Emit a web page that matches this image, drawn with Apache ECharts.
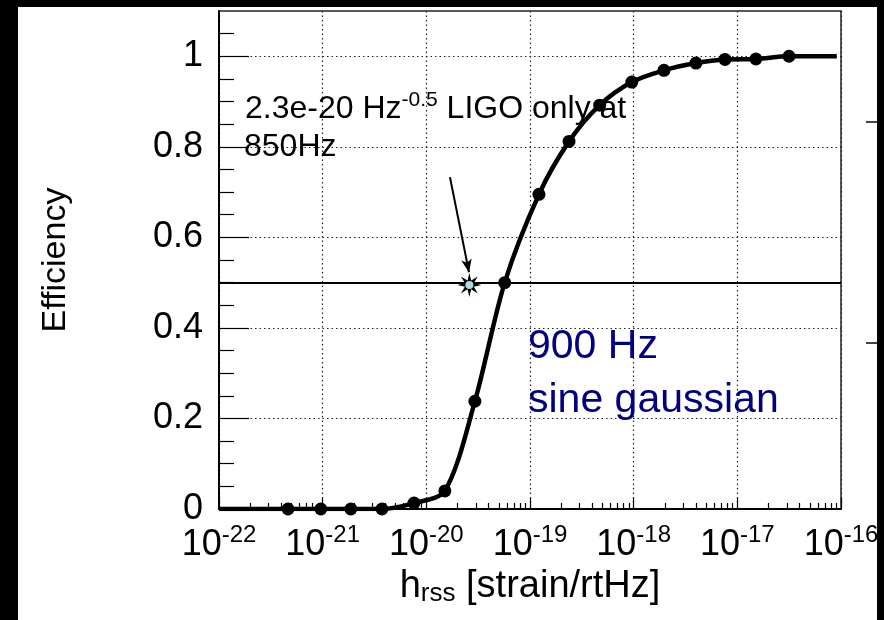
<!DOCTYPE html>
<html><head><meta charset="utf-8">
<script src="https://cdn.jsdelivr.net/npm/echarts@6/dist/echarts.min.js"></script>
<style>html,body{margin:0;padding:0;background:#fff}#c{width:884px;height:620px}</style>
</head><body><div id="c"></div>
<script>
// ---- data ----
const xTickValues = [1e-22, 1e-21, 1e-20, 1e-19, 1e-18, 1e-17, 1e-16];
const yTickValues = [0, 0.2, 0.4, 0.6, 0.8, 1.0];
const yMinorValues = [0.05,0.1,0.15,0.25,0.3,0.35,0.45,0.5,0.55,0.65,0.7,0.75,0.85,0.9,0.95,1.05];
const hrss = [4.63e-22, 9.6e-22, 1.87e-21, 3.73e-21, 7.6e-21, 1.51e-20, 2.94e-20, 5.7e-20, 1.22e-19, 2.38e-19, 4.7e-19, 9.6e-19, 1.96e-18, 3.99e-18, 7.6e-18, 1.51e-17, 3.15e-17];
const efficiency = [0, 0, 0, 0, 0.013, 0.04, 0.238, 0.5, 0.695, 0.812, 0.892, 0.943, 0.969, 0.985, 0.993, 0.994, 1.0];
const fitHrss = [1e-22, 4.63e-22, 9.6e-22, 1.87e-21, 3.73e-21, 7.6e-21, 1.51e-20, 2.94e-20, 5.7e-20, 1.22e-19, 2.38e-19, 4.7e-19, 9.6e-19, 1.96e-18, 3.99e-18, 7.6e-18, 1.51e-17, 3.15e-17, 9.1e-17];
const fitEff = [0, 0, 0, 0, 0, 0.013, 0.04, 0.238, 0.5, 0.695, 0.812, 0.892, 0.943, 0.969, 0.985, 0.993, 0.994, 1.0, 1.0];
const ligoHrss = [2.6e-20];
const ligoEff = [0.495];
const arrowFrom = [1.69e-20, 0.733];
const arrowTo = [2.58e-20, 0.523];
const refLevel = 0.496;

// minor log ticks (2..9 in each decade)
const xMinorValues = [];
for (let d = -22; d < -16; d++) for (let m = 2; m <= 9; m++) xMinorValues.push(m * Math.pow(10, d));

const FONT = 'Liberation Sans, Arial, Helvetica, sans-serif';

// 8-point star symbol shape
let star = 'path://';
for (let i = 0; i < 16; i++) {
  const r = i % 2 === 0 ? 10 : 4.0;
  const a = Math.PI * i / 8 - Math.PI / 2;
  star += (i === 0 ? 'M' : 'L') + (r * Math.cos(a)).toFixed(2) + ' ' + (r * Math.sin(a)).toFixed(2);
}
star += 'Z';

const chart = echarts.init(document.getElementById('c'), null, {renderer: 'canvas'});
const dotted = {type: [1.5, 3], color: '#222', width: 1.2};

chart.setOption({
  backgroundColor: '#ffffff',
  animation: false,
  grid: {left: 219, right: 43, top: 11, bottom: 111, show: true, borderColor: '#222', borderWidth: 1.5, backgroundColor: 'transparent'},
  xAxis: [{
    type: 'log', logBase: 10, min: 1e-22, max: 1e-16,
    axisLine: {show: true, lineStyle: {color: '#000', width: 2}},
    axisTick: {show: true, inside: true, length: 11, customValues: xTickValues, lineStyle: {color: '#000', width: 1.2}},
    axisLabel: {
      show: true, customValues: xTickValues, margin: 14, color: '#000',
      formatter: v => '{b|10}{s|' + Math.round(Math.log10(v)) + '}',
      rich: {
        b: {fontFamily: FONT, fontSize: 36, color: '#000', lineHeight: 44},
        s: {fontFamily: FONT, fontSize: 24, color: '#000', lineHeight: 16, verticalAlign: 'top'}
      }
    },
    splitLine: {show: true, lineStyle: dotted},
    name: '{a|h}{b|rss}{a| [strain/rtHz]}',
    nameLocation: 'middle', nameGap: 50,
    nameTextStyle: {
      rich: {
        a: {fontFamily: FONT, fontSize: 38, color: '#000', lineHeight: 40},
        b: {fontFamily: FONT, fontSize: 26, color: '#000', lineHeight: 20, verticalAlign: 'bottom'}
      }
    }
  }, {
    type: 'log', logBase: 10, min: 1e-22, max: 1e-16, gridIndex: 0, position: 'bottom',
    axisLine: {show: false},
    axisTick: {show: true, inside: true, length: 6, customValues: xMinorValues, lineStyle: {color: '#000', width: 1.2}},
    axisLabel: {show: false},
    splitLine: {show: false}
  }],
  yAxis: [{
    type: 'value', min: 0, max: 1.1,
    axisLine: {show: true, lineStyle: {color: '#000', width: 2}},
    axisTick: {show: true, inside: true, length: 30, customValues: yTickValues, lineStyle: {color: '#000', width: 1.2}},
    axisLabel: {show: true, customValues: yTickValues, margin: 16, color: '#000', fontFamily: FONT, fontSize: 36,
      formatter: v => String(+v.toFixed(1))},
    splitLine: {show: true, lineStyle: dotted},
    name: 'Efficiency', nameLocation: 'middle', nameRotate: 90, nameGap: 146,
    nameTextStyle: {fontFamily: FONT, fontSize: 34, color: '#000'}
  }, {
    type: 'value', min: 0, max: 1.1, gridIndex: 0, position: 'left',
    axisLine: {show: false},
    axisTick: {show: true, inside: true, length: 15, customValues: yMinorValues, lineStyle: {color: '#000', width: 1.2}},
    axisLabel: {show: false},
    splitLine: {show: false}
  }],
  series: [{
    type: 'line', name: 'fit', xAxisIndex: 0, yAxisIndex: 0,
    data: fitHrss.map((x, i) => [x, fitEff[i]]),
    showSymbol: false, smooth: 0.3,
    lineStyle: {color: '#000', width: 4.5}, z: 3,
    markLine: {
      silent: true, symbol: ['none', 'none'], label: {show: false},
      lineStyle: {color: '#000', width: 2, type: 'solid'},
      data: [{yAxis: refLevel}]
    }
  }, {
    type: 'scatter', name: 'efficiency', xAxisIndex: 0, yAxisIndex: 0,
    data: hrss.map((x, i) => [x, efficiency[i]]),
    symbol: 'circle', symbolSize: 13, itemStyle: {color: '#000', opacity: 1}, z: 4
  }, {
    type: 'scatter', name: 'ligo', xAxisIndex: 0, yAxisIndex: 0,
    data: ligoHrss.map((x, i) => [x, ligoEff[i]]),
    symbol: star, symbolSize: 24, itemStyle: {color: '#000', opacity: 1}, z: 5,
    markLine: {
      silent: true, symbol: ['none', 'arrow'], symbolSize: [8, 13], label: {show: false},
      lineStyle: {color: '#000', width: 2, type: 'solid'},
      data: [[{coord: arrowFrom}, {coord: arrowTo}]]
    }
  }, {
    type: 'scatter', name: 'ligoCenter', xAxisIndex: 0, yAxisIndex: 0,
    data: ligoHrss.map((x, i) => [x, ligoEff[i]]),
    symbol: 'circle', symbolSize: 8, itemStyle: {color: '#a9dfe3', opacity: 1}, z: 6
  }],
  graphic: [
    {type: 'rect', shape: {x: 0, y: 0, width: 884, height: 7}, style: {fill: '#000'}, z: 100},
    {type: 'rect', shape: {x: 0, y: 0, width: 18, height: 620}, style: {fill: '#000'}, z: 100},
    {type: 'rect', shape: {x: 877, y: 0, width: 7, height: 620}, style: {fill: '#000'}, z: 100},
    {type: 'line', shape: {x1: 866, y1: 122, x2: 877, y2: 122}, style: {stroke: '#444', lineWidth: 2}, z: 100},
    {type: 'line', shape: {x1: 866, y1: 343, x2: 877, y2: 343}, style: {stroke: '#444', lineWidth: 2}, z: 100},
    {type: 'text', x: 245, y: 109, z: 50, style: {
      text: '{a|2.3e-20 Hz}{s|-0.5}{a| LIGO only at}', textVerticalAlign: 'middle',
      rich: {
        a: {fontFamily: FONT, fontSize: 32, fill: '#000', lineHeight: 38},
        s: {fontFamily: FONT, fontSize: 21, fill: '#000', lineHeight: 16, verticalAlign: 'top'}
      }}},
    {type: 'text', x: 244, y: 147, z: 50, style: {text: '850Hz', font: '32px ' + FONT, fill: '#000', textVerticalAlign: 'middle'}},
    {type: 'text', x: 528, y: 347, z: 50, style: {text: '900 Hz', font: '41px ' + FONT, fill: '#000080', textVerticalAlign: 'middle'}},
    {type: 'text', x: 528, y: 401, z: 50, style: {text: 'sine gaussian', font: '41px ' + FONT, fill: '#000080', textVerticalAlign: 'middle'}}
  ]
});
</script></body></html>
